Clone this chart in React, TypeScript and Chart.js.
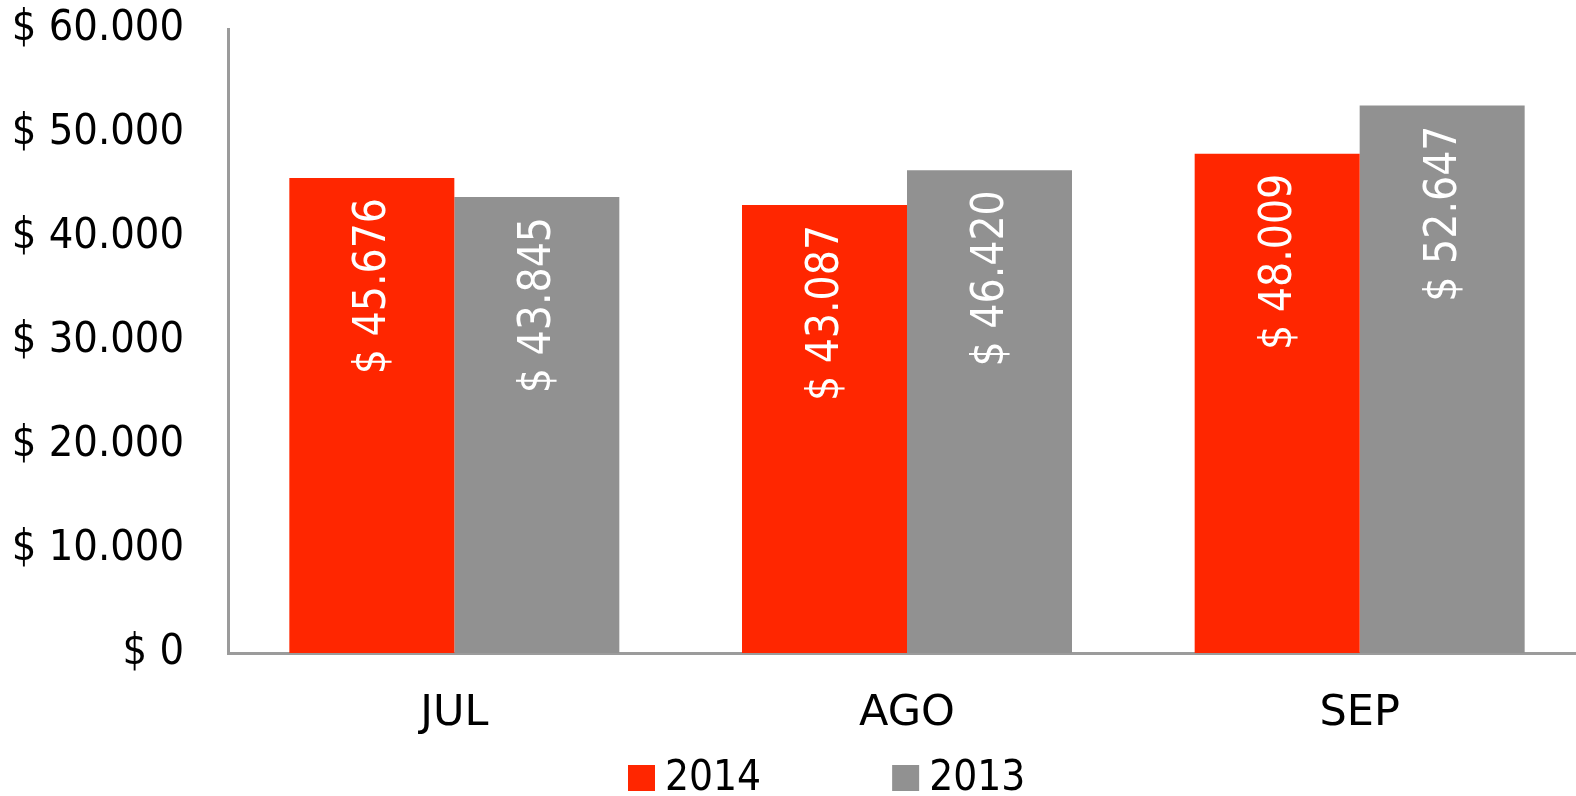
import React, { useEffect, useRef } from "react";
import { Chart, registerables } from "chart.js";

Chart.register(...registerables);

const categories = ["JUL", "AGO", "SEP"];
const seriesNames = ["2014", "2013"];
const values2014 = [45676, 43087, 48009];
const values2013 = [43845, 46420, 52647];
const yTicks = [0, 10000, 20000, 30000, 40000, 50000, 60000];

const RED = "#FF2600";
const GRAY = "#919191";
const AXIS = "#9B9B9B";
const FONT = '"DejaVu Sans Condensed", "DejaVu Sans", sans-serif';
const FONT_WIDE = '"DejaVu Sans", sans-serif';

const fmt = (v: number) => "$ " + String(Math.round(v)).replace(/\B(?=(\d{3})+(?!\d))/g, ".");

const labelPlugin = {
  id: "barLabels",
  afterDatasetsDraw(chart: any) {
    const ctx = chart.ctx;
    ctx.save();
    ctx.fillStyle = "#FFFFFF";
    ctx.font = `44px ${FONT}`;
    ctx.textAlign = "right";
    ctx.textBaseline = "middle";
    chart.data.datasets.forEach((ds: any, di: number) => {
      const meta = chart.getDatasetMeta(di);
      meta.data.forEach((bar: any, i: number) => {
        ctx.save();
        ctx.translate(bar.x + 2, bar.y + 20);
        ctx.rotate(-Math.PI / 2);
        ctx.fillText(fmt(ds.data[i]), 0, 0);
        ctx.restore();
      });
    });
    ctx.restore();
  },
};

const legendPlugin = {
  id: "customLegend",
  afterDraw(chart: any) {
    const ctx = chart.ctx;
    ctx.save();
    ctx.font = `42px ${FONT}`;
    ctx.textBaseline = "middle";
    ctx.textAlign = "left";
    let x = 628;
    const yc = 778;
    chart.data.datasets.forEach((ds: any) => {
      ctx.fillStyle = ds.backgroundColor;
      ctx.fillRect(x, yc - 13, 27, 26);
      x += 27 + 10;
      ctx.fillStyle = "#000000";
      ctx.fillText(ds.label, x, yc + 1);
      x += ctx.measureText(ds.label).width + 131;
    });
    ctx.restore();
  },
};

export default function App() {
  const ref = useRef<HTMLCanvasElement | null>(null);
  useEffect(() => {
    document.body.style.margin = "0";
    const chart = new Chart(ref.current as HTMLCanvasElement, {
      type: "bar",
      data: {
        labels: categories,
        datasets: [
          { label: seriesNames[0], data: values2014, backgroundColor: RED, borderWidth: 0 },
          { label: seriesNames[1], data: values2013, backgroundColor: GRAY, borderWidth: 0 },
        ],
      },
      options: {
        animation: false,
        responsive: false,
        maintainAspectRatio: false,
        layout: { padding: { top: 29, right: 0, bottom: 53, left: 0 } },
        datasets: { bar: { categoryPercentage: 0.729, barPercentage: 1 } },
        plugins: { legend: { display: false }, tooltip: { enabled: false } },
        scales: {
          x: {
            grid: { display: false },
            border: { display: true, color: AXIS, width: 3 },
            ticks: { color: "#000", font: { family: FONT_WIDE, size: 43 }, padding: 27 },
            afterFit: (s: any) => {
              s.height = 90;
              s.paddingLeft = 0;
              s.paddingRight = 0;
            },
          },
          y: {
            min: 0,
            max: 60000,
            afterBuildTicks: (s: any) => { s.ticks = yTicks.map((v) => ({ value: v })); },
            grid: { display: false },
            border: { display: true, color: AXIS, width: 3 },
            ticks: {
              color: "#000",
              font: { family: FONT, size: 43 },
              padding: 36,
              callback: (v: any) => fmt(Number(v)),
            },
            afterFit: (s: any) => {
              s.width = 228;
              s.paddingTop = 0;
              s.paddingBottom = 0;
            },
          },
        },
      },
      plugins: [labelPlugin, legendPlugin],
    });
    return () => chart.destroy();
  }, []);
  return (
    <div style={{ width: 1576, height: 796, overflow: "hidden" }}>
      <canvas ref={ref} width={1586} height={796} style={{ display: "block" }} />
    </div>
  );
}
